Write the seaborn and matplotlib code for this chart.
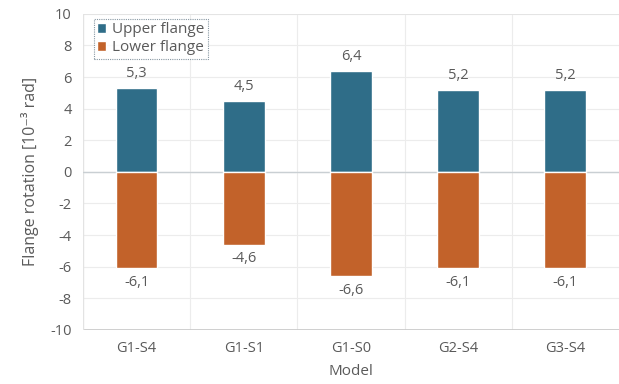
import matplotlib
matplotlib.use("Agg")
import matplotlib.pyplot as plt
import seaborn as sns
import pandas as pd

models = ["G1-S4", "G1-S1", "G1-S0", "G2-S4", "G3-S4"]
upper = [5.3, 4.5, 6.4, 5.2, 5.2]
lower = [-6.1, -4.6, -6.6, -6.1, -6.1]
series = ["Upper flange", "Lower flange"]
colors = ["#2f6d88", "#c2622a"]
yticks = [10, 8, 6, 4, 2, 0, -2, -4, -6, -8, -10]

df = pd.DataFrame({
    "Model": models * 2,
    "value": upper + lower,
    "series": [series[0]] * len(models) + [series[1]] * len(models),
})

sns.set_theme(style="white")
plt.rcParams["font.family"] = ["Open Sans", "DejaVu Sans"]
text_color = "#5a5a5a"

fig = plt.figure(figsize=(6.19, 3.84), dpi=100)
ax = fig.add_axes([0.134, 0.141, 0.866, 0.823])

sns.barplot(data=df, x="Model", y="value", hue="series", order=models,
            hue_order=series, palette=colors, dodge=False, width=0.39,
            saturation=1, ax=ax, zorder=3)

ax.set_ylim(-10, 10)
ax.set_xlim(-0.5, 4.5)
ax.set_yticks(yticks)
ax.set_yticklabels([str(t) for t in yticks])

# light grid: horizontal at ticks, vertical between categories
for t in yticks:
    ax.axhline(t, color="#ececec", lw=0.8, zorder=0)
ax.axhline(0, color="#c9cfd3", lw=1.0, zorder=2)
for b in [0.5, 1.5, 2.5, 3.5]:
    ax.axvline(b, color="#ececec", lw=0.8, zorder=0)

for side in ["left", "top", "right", "bottom"]:
    ax.spines[side].set_visible(False)
ax.axhline(10, color="#e3e3e3", lw=1.2, zorder=1)
ax.axhline(-10, color="#c8c8c8", lw=1.2, zorder=1)
ax.axvline(-0.5, color="#e3e3e3", lw=1.0, zorder=1)

ax.tick_params(axis="both", length=0, labelsize=10.5, colors=text_color, pad=8)

for i, v in enumerate(upper):
    ax.annotate(f"{v:.1f}".replace(".", ","), (i, v), xytext=(0, 5),
                textcoords="offset points", ha="center", va="bottom",
                fontsize=10.5, color=text_color)
for i, v in enumerate(lower):
    ax.annotate(f"{v:.1f}".replace(".", ","), (i, v), xytext=(0, -5),
                textcoords="offset points", ha="center", va="top",
                fontsize=10.5, color=text_color)

ax.set_xlabel("Model", fontsize=11, color=text_color, labelpad=6)
ax.set_ylabel("Flange rotation [10⁻³ rad]", fontsize=11.5,
              color=text_color, labelpad=8)

leg = ax.legend(loc="upper left", bbox_to_anchor=(0.02, 0.985), fontsize=11,
                frameon=True, fancybox=False, handlelength=0.55,
                handleheight=0.55, handletextpad=0.4, borderpad=0.25,
                labelspacing=0.2, borderaxespad=0.0)
leg.get_frame().set_edgecolor("#6b7f8c")
leg.get_frame().set_linestyle((0, (1, 1)))
leg.get_frame().set_linewidth(0.8)
for txt in leg.get_texts():
    txt.set_color(text_color)

fig.savefig("out.png", dpi=100)
